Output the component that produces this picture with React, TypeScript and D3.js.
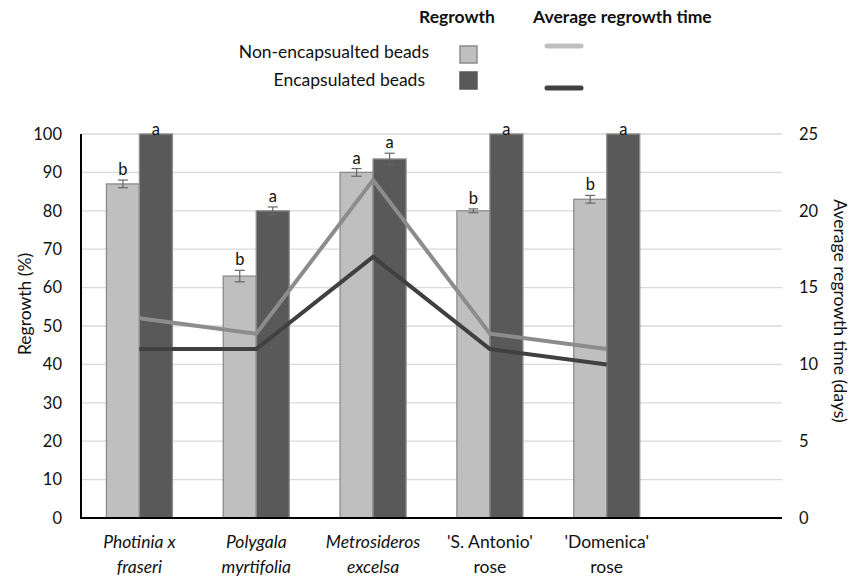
import React from "react";
import * as d3 from "d3";

const categories = ["Photinia x|fraseri", "Polygala|myrtifolia", "Metrosideros|excelsa", "'S. Antonio'|rose", "'Domenica'|rose", ""];
const italicCats = [true, true, true, false, false, false];
const nonEncap = [87, 63, 90, 80, 83];
const encap = [100, 80, 93.5, 100, 100];
const nonEncapErr = [1, 1.5, 1, 0.5, 1];
const encapErr = [0, 1, 1.5, 0, 0];
const nonEncapLetters = ["b", "b", "a", "b", "b"];
const encapLetters = ["a", "a", "a", "a", "a"];
const nonEncapTime = [13, 12, 22, 12, 11];
const encapTime = [11, 11, 17, 11, 10];
const leftTicks = [0, 10, 20, 30, 40, 50, 60, 70, 80, 90, 100];
const rightTicks = [0, 5, 10, 15, 20, 25];

const W = 850, H = 577;
const left = 81, right = 782, top = 134, bottom = 518;
const FONT = "Lato, 'Open Sans', sans-serif";
const LIGHT = "#bfbfbf", DARK = "#595959";
const TICK = 16.5, TXT = 17.5;

export default function App() {
  const x = d3.scaleBand<number>().domain(d3.range(categories.length)).range([left, right]).paddingInner(0).paddingOuter(0);
  const y = d3.scaleLinear().domain([0, 100]).range([bottom, top]);
  const y2 = d3.scaleLinear().domain([0, 25]).range([bottom, top]);
  const bw = 33;
  const cx = (i: number) => (x(i) as number) + x.bandwidth() / 2;
  const line2 = d3.line<number>().x((_, i) => cx(i)).y((d) => y2(d));

  const series = [
    { vals: nonEncap, err: nonEncapErr, letters: nonEncapLetters, fill: LIGHT, off: -bw },
    { vals: encap, err: encapErr, letters: encapLetters, fill: DARK, off: 0 },
  ];

  return (
    <svg width={W} height={H} style={{ position: "absolute", left: 0, top: 0, background: "#fff" }} fontFamily={FONT}>
      {leftTicks.map((t) => (
        <g key={t}>
          {t > 0 && <line x1={left} x2={right} y1={y(t)} y2={y(t)} stroke="#d9d9d9" strokeWidth={1.3} />}
          <text x={62} y={y(t)} dy="0.35em" textAnchor="end" fontSize={TICK} fill="#111">{t}</text>
        </g>
      ))}
      {rightTicks.map((t) => (
        <text key={t} x={799} y={y2(t)} dy="0.35em" textAnchor="start" fontSize={TICK} fill="#111">{t}</text>
      ))}
      {series.map((s, si) => (
        <g key={si}>
          {s.vals.map((v, i) => (
            <rect key={i} x={cx(i) + s.off} y={y(v)} width={bw} height={bottom - y(v)} fill={s.fill} stroke="#8c8c8c" strokeWidth={1.3} />
          ))}
        </g>
      ))}
      {series.map((s, si) => (
        <g key={"e" + si}>
          {s.vals.map((v, i) => {
            const bx = cx(i) + s.off + bw / 2;
            const e = s.err[i];
            const lbl = Math.max(y(v + e) - 5, top + 1);
            return (
              <g key={i}>
                {e > 0 && (
                  <g stroke="#666" strokeWidth={1.2}>
                    <line x1={bx} x2={bx} y1={y(v - e)} y2={y(v + e)} />
                    <line x1={bx - 5} x2={bx + 5} y1={y(v - e)} y2={y(v - e)} />
                    <line x1={bx - 5} x2={bx + 5} y1={y(v + e)} y2={y(v + e)} />
                  </g>
                )}
                <text x={bx} y={lbl} textAnchor="middle" fontSize={TICK} fill="#111">{s.letters[i]}</text>
              </g>
            );
          })}
        </g>
      ))}
      <path d={line2(nonEncapTime) || ""} fill="none" stroke="#8c8c8c" strokeWidth={4} />
      <path d={line2(encapTime) || ""} fill="none" stroke="#404040" strokeWidth={4} />
      <line x1={left} x2={left} y1={top} y2={bottom + 1} stroke="#000" strokeWidth={2} />
      <line x1={left} x2={right} y1={bottom} y2={bottom} stroke="#000" strokeWidth={2} />
      {categories.map((c, i) => {
        if (!c) return null;
        const [l1, l2] = c.split("|");
        return (
          <text key={i} x={cx(i)} textAnchor="middle" fontSize={TXT} fill="#111" fontStyle={italicCats[i] ? "italic" : "normal"}>
            <tspan x={cx(i)} y={548}>{l1}</tspan>
            <tspan x={cx(i)} y={573}>{l2}</tspan>
          </text>
        );
      })}
      <text transform={`translate(31,304) rotate(-90)`} textAnchor="middle" fontSize={TXT} fill="#111">Regrowth (%)</text>
      <text transform={`translate(834,311) rotate(90)`} textAnchor="middle" fontSize={TXT} fill="#111">Average regrowth time (days)</text>
      {/* legend */}
      <text x={457} y={23} textAnchor="middle" fontSize={TXT} fontWeight="bold" fill="#111">Regrowth</text>
      <text x={533} y={23} textAnchor="start" fontSize={TXT} fontWeight="bold" fill="#111">Average regrowth time</text>
      <text x={429} y={58} textAnchor="end" fontSize={TXT} fill="#111">Non-encapsualted beads</text>
      <text x={425} y={86} textAnchor="end" fontSize={TXT} fill="#111">Encapsulated beads</text>
      <rect x={460} y={46} width={17} height={17} fill={LIGHT} stroke="#8c8c8c" strokeWidth={1.5} />
      <rect x={460} y={72} width={17} height={17} fill={DARK} stroke="#595959" strokeWidth={1.5} />
      <line x1={547} x2={581} y1={46} y2={46} stroke="#bfbfbf" strokeWidth={5} strokeLinecap="round" />
      <line x1={547} x2={581} y1={88} y2={88} stroke="#404040" strokeWidth={5} strokeLinecap="round" />
    </svg>
  );
}
